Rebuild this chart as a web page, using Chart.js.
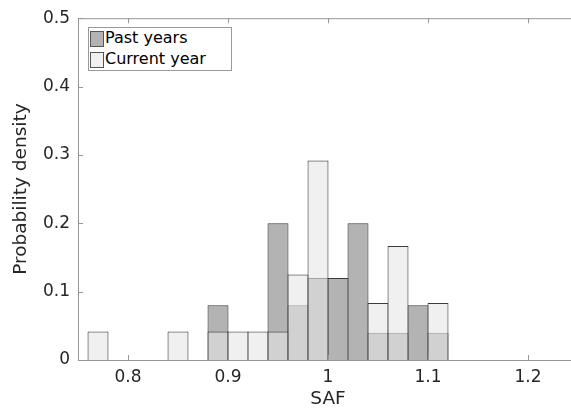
<!DOCTYPE html>
<html>
<head>
<meta charset="utf-8">
<script src="https://cdn.jsdelivr.net/npm/chart.js@4"></script>
<style>
  html, body { margin: 0; padding: 0; background: #fff; overflow: hidden; }
  #wrap { position: relative; width: 578px; height: 411px; }
  #legend {
    position: absolute; left: 88px; top: 27px; width: 142px; height: 42px;
    border: 1px solid #9a9a9a; background: #fff;
    font-family: "DejaVu Sans", sans-serif; font-size: 16px; color: #000;
  }
  .item { position: absolute; left: 1px; height: 16px; line-height: 16px; white-space: nowrap; }
  .item span.sw { position: absolute; left: 0; top: 0; width: 12px; height: 14px; border: 1px solid #555; }
  .item span.tx { position: absolute; left: 15px; top: -1px; }
</style>
</head>
<body>
<div id="wrap">
  <canvas id="histChart"></canvas>
  <div id="legend"></div>
</div>
<script>
// bin centers (bin width 0.02)
const binCenters = [0.77, 0.79, 0.81, 0.83, 0.85, 0.87, 0.89, 0.91, 0.93, 0.95, 0.97, 0.99, 1.01, 1.03, 1.05, 1.07, 1.09, 1.11];
const pastYears   = [0, 0, 0, 0, 0, 0, 0.08, 0, 0, 0.2, 0.08, 0.12, 0.12, 0.2, 0.04, 0.04, 0.08, 0.04];
const currentYear = [0.0417, 0, 0, 0, 0.0417, 0, 0.0417, 0.0417, 0.0417, 0.0417, 0.125, 0.2917, 0, 0, 0.0833, 0.1667, 0, 0.0833];
const xTicks = [0.8, 0.9, 1, 1.1, 1.2];
const yTicks = [0, 0.1, 0.2, 0.3, 0.4, 0.5];
const seriesNames = ['Past years', 'Current year'];

const pastColor = 'rgba(128,128,128,0.6)';
const currentColor = 'rgba(230,230,230,0.6)';
const edgeColor = '#3c3c3c';
const axisColor = '#969696';
const textColor = '#262626';

function toPoints(values) {
    return binCenters.map((x, i) => ({ x: x, y: values[i] > 0 ? values[i] : null }));
}

// legend (inside the axes, top left)
const legend = document.getElementById('legend');
[[seriesNames[0], 'rgb(179,179,179)'], [seriesNames[1], 'rgb(240,240,240)']].forEach((it, i) => {
    const div = document.createElement('div');
    div.className = 'item';
    div.style.top = (3 + i * 21) + 'px';
    div.innerHTML = '<span class="sw" style="background:' + it[1] + '"></span><span class="tx"></span>';
    div.querySelector('.tx').textContent = it[0];
    legend.appendChild(div);
});

// box and inward ticks, like the original axes
const axesBox = {
    id: 'axesBox',
    afterDraw(chart) {
        const { ctx, chartArea: a, scales: { x, y } } = chart;
        ctx.save();
        ctx.strokeStyle = axisColor;
        ctx.lineWidth = 1;
        ctx.beginPath();
        ctx.rect(a.left + 0.5, a.top + 0.5, a.right - a.left, a.bottom - a.top);
        xTicks.forEach(v => {
            const px = Math.round(x.getPixelForValue(v)) + 0.5;
            ctx.moveTo(px, a.bottom); ctx.lineTo(px, a.bottom - 5);
            ctx.moveTo(px, a.top); ctx.lineTo(px, a.top + 5);
        });
        yTicks.forEach(v => {
            const py = Math.round(y.getPixelForValue(v)) + 0.5;
            ctx.moveTo(a.left, py); ctx.lineTo(a.left + 5, py);
            ctx.moveTo(a.right, py); ctx.lineTo(a.right - 5, py);
        });
        ctx.stroke();
        ctx.restore();
    }
};

const font = { family: '"DejaVu Sans", sans-serif', size: 17 };
const titleFont = { family: '"DejaVu Sans", sans-serif', size: 18.5 };

new Chart(document.getElementById('histChart'), {
    type: 'bar',
    data: {
        datasets: [
            {
                label: seriesNames[0],
                data: toPoints(pastYears),
                backgroundColor: pastColor,
                borderColor: edgeColor,
                borderWidth: 1,
                order: 1
            },
            {
                label: seriesNames[1],
                data: toPoints(currentYear),
                backgroundColor: currentColor,
                borderColor: edgeColor,
                borderWidth: 1,
                order: 0
            }
        ]
    },
    options: {
        responsive: true,
        maintainAspectRatio: false,
        animation: false,
        grouped: false,
        barPercentage: 1.05,
        categoryPercentage: 1,
        layout: { padding: { top: 15, right: 0, left: 0, bottom: 0 } },
        plugins: {
            legend: { display: false },
            tooltip: { enabled: false }
        },
        scales: {
            x: {
                type: 'linear',
                offset: false,
                min: 0.75,
                max: 1.25,
                afterFit: s => { s.height = 51; },
                afterBuildTicks: s => { s.ticks = xTicks.map(v => ({ value: v })); },
                grid: { display: false, drawTicks: false, offset: false },
                border: { display: false },
                ticks: {
                    padding: 7,
                    color: textColor,
                    font: font,
                    callback: v => String(v)
                },
                title: {
                    display: true,
                    text: 'SAF',
                    color: textColor,
                    font: titleFont,
                    padding: { top: 0, bottom: 1 }
                }
            },
            y: {
                min: 0,
                max: 0.5,
                afterFit: s => { s.width = 78; },
                afterBuildTicks: s => { s.ticks = yTicks.map(v => ({ value: v })); },
                grid: { display: false, drawTicks: false },
                border: { display: false },
                ticks: {
                    padding: 8,
                    color: textColor,
                    font: font,
                    callback: v => String(v)
                },
                title: {
                    display: true,
                    text: 'Probability density',
                    color: textColor,
                    font: titleFont,
                    padding: { top: 10.5, bottom: 0 }
                }
            }
        }
    },
    plugins: [axesBox]
});
</script>
</body>
</html>
